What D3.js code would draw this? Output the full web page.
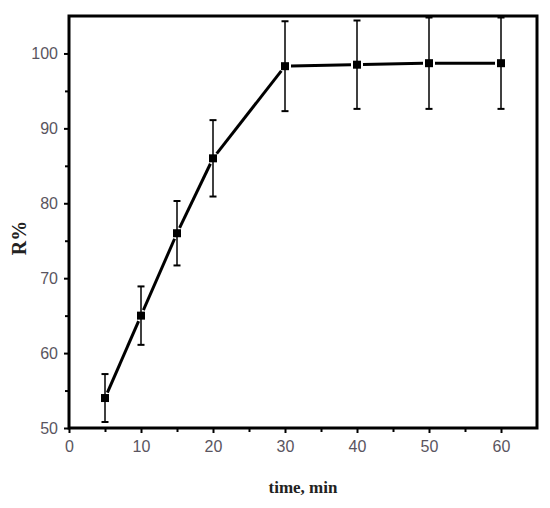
<!DOCTYPE html>
<html><head><meta charset="utf-8">
<script src="https://cdn.jsdelivr.net/npm/d3@7"></script>
<style>body{margin:0;background:#fff}svg{display:block}</style>
</head><body>
<script>
const times = [5, 10, 15, 20, 30, 40, 50, 60];
const rPercent = [54.0, 65.0, 76.0, 86.0, 98.3, 98.5, 98.7, 98.7];
const rError = [3.2, 3.9, 4.3, 5.1, 6.0, 5.9, 6.1, 6.1];
const xTicks = [0, 10, 20, 30, 40, 50, 60];
const yTicks = [50, 60, 70, 80, 90, 100];

const W = 550, H = 508;
const m = {left: 69, top: 16, right: 13, bottom: 80};
const svg = d3.select("body").append("svg").attr("width", W).attr("height", H);
const x = d3.scaleLinear().domain([0, 65]).range([m.left, W - m.right]);
const y = d3.scaleLinear().domain([50, 105]).range([H - m.bottom, m.top]);

const g = svg.append("g");
g.append("rect").attr("x", x(0)).attr("y", y(105)).attr("width", x(65) - x(0)).attr("height", y(50) - y(105))
  .attr("fill", "none").attr("stroke", "#000").attr("stroke-width", 3);

const xMinor = d3.range(5, 65, 10);
const yMinor = d3.range(55, 105, 10);
const xAxis = d3.axisBottom(x).tickValues(xTicks).tickSize(5).tickPadding(8).tickFormat(d3.format("d"));
const xAx = g.append("g").attr("transform", `translate(0,${y(50)})`).call(xAxis);
const xAxMinor = g.append("g").attr("transform", `translate(0,${y(50)})`).call(d3.axisBottom(x).tickValues(xMinor).tickSize(4).tickFormat(""));
const yAxis = d3.axisLeft(y).tickValues(yTicks).tickSize(5).tickPadding(6).tickFormat(d3.format("d"));
const yAx = g.append("g").attr("transform", `translate(${x(0)},0)`).call(yAxis);
const yAxMinor = g.append("g").attr("transform", `translate(${x(0)},0)`).call(d3.axisLeft(y).tickValues(yMinor).tickSize(4).tickFormat(""));
[xAx, xAxMinor, yAx, yAxMinor].forEach(a => {
  a.select(".domain").remove();
  a.selectAll(".tick line").attr("stroke", "#000").attr("stroke-width", 2);
  a.selectAll(".tick text").attr("fill", "#5a5560").attr("font-family", "Liberation Sans Narrow, Liberation Sans, sans-serif").attr("font-size", 16);
});

const gap = 6;
for (let i = 0; i < times.length - 1; i++) {
  const x1 = x(times[i]), y1 = y(rPercent[i]), x2 = x(times[i+1]), y2 = y(rPercent[i+1]);
  const dx = x2 - x1, dy = y2 - y1, L = Math.hypot(dx, dy);
  const ux = dx / L, uy = dy / L;
  g.append("line").attr("x1", x1 + ux*gap).attr("y1", y1 + uy*gap)
    .attr("x2", x2 - ux*gap).attr("y2", y2 - uy*gap)
    .attr("stroke", "#000").attr("stroke-width", 3);
}

const eb = g.append("g");
times.forEach((t, i) => {
  const cx = x(t), top = y(rPercent[i] + rError[i]), bot = y(rPercent[i] - rError[i]);
  eb.append("line").attr("x1", cx).attr("x2", cx).attr("y1", top).attr("y2", bot).attr("stroke", "#000").attr("stroke-width", 1.5);
  [top, bot].forEach(yy => eb.append("line").attr("x1", cx - 3.5).attr("x2", cx + 3.5).attr("y1", yy).attr("y2", yy).attr("stroke", "#000").attr("stroke-width", 2));
});

g.selectAll("rect.pt").data(times).join("rect").attr("class", "pt")
  .attr("x", (d) => x(d) - 4).attr("y", (d, i) => y(rPercent[i]) - 4)
  .attr("width", 8).attr("height", 8).attr("fill", "#000");

svg.append("text").attr("x", 303).attr("y", 493).attr("text-anchor", "middle")
  .attr("font-family", "Liberation Serif, serif").attr("font-weight", "bold").attr("font-size", 17)
  .attr("fill", "#222").text("time, min");
svg.append("text").attr("transform", "translate(26,238) rotate(-90)").attr("text-anchor", "middle")
  .attr("font-family", "Liberation Serif, serif").attr("font-weight", "bold").attr("font-size", 20)
  .attr("fill", "#222").text("R%");
</script>
</body></html>
